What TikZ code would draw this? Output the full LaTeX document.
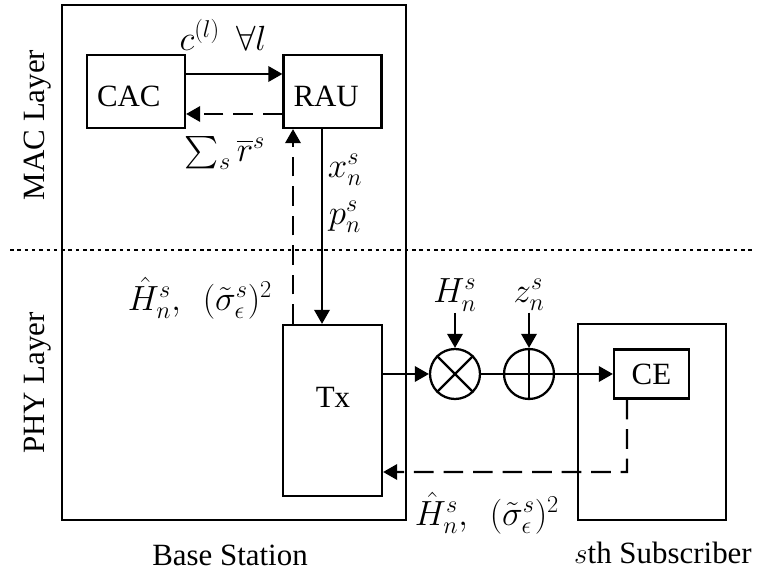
\documentclass[tikz,border=0pt]{standalone}
\usepackage[no-math]{fontspec}
\setmainfont{Liberation Serif}
\usepackage{amsmath,amssymb}
\usetikzlibrary{positioning,arrows.meta,calc}
\tikzset{
  blk/.style={draw, line width=1.6pt, inner sep=0pt},
  unit/.style={blk, minimum width=2.45cm, minimum height=1.825cm,
    text width=1.95cm, align=left, text height=0.75cm, text depth=0pt},
  op/.style={draw, circle, line width=1.6pt, minimum size=1.25cm, inner sep=0pt},
  arr/.style={-{Triangle[length=10pt,width=11pt]}, line width=1.5pt},
  darr/.style={arr, dash pattern=on 14pt off 7pt},
  lab/.style={inner sep=1pt, font=\fontsize{23pt}{27pt}\selectfont},
}

\begin{document}
\begin{tikzpicture}[x=1cm, y=-1cm, font=\fontsize{22pt}{26pt}\selectfont]
    \useasboundingbox (0,0) rectangle (18.95,14.35);
    % base station and subscriber
    \node[blk, minimum width=8.6cm, minimum height=12.875cm] (bs) at (5.85,6.5625) {};
    \node[blk, minimum width=3.7cm, minimum height=4.9cm] (sub) at (16.3,10.55) {};
    \node[unit] (cac) at (3.4,2.2875) {CAC};
    \node[unit] (rau) at (8.3125,2.2875) {RAU};
    \node[blk, minimum width=2.475cm, minimum height=4.275cm] (tx) at (8.3125,10.2625) {};
    \node (txt) at (8.325,9.925) {Tx};
    \node[op] (mul) at (11.375,9.35) {};
    \node[op] (add) at (13.225,9.35) {};
    \node[blk, minimum width=1.875cm, minimum height=1.225cm] (ce) at (16.2875,9.35) {CE};
    \draw[line width=1.6pt] (mul.north west) -- (mul.south east) (mul.north east) -- (mul.south west);
    \draw[line width=1.6pt] (add.north) -- (add.south) (add.west) -- (add.east);
    % layer split
    \coordinate (dl) at (0.25,6.25);
    \coordinate (dr) at (18.8,6.25);
    \draw[line width=1.5pt, dash pattern=on 2.5pt off 2.7pt] (dl) -- (dr);
    % MAC links
    \draw[arr] ([yshift=0.4375cm]cac.east) -- ([yshift=0.4375cm]rau.west);
    \draw[darr] ([yshift=-0.5625cm]rau.west) -- ([yshift=-0.5625cm]cac.east);
    \draw[arr] ([xshift=-0.2625cm]rau.south) -- ([xshift=-0.2625cm]tx.north);
    \draw[darr] ([xshift=-0.9875cm]tx.north) -- ([xshift=-0.9875cm]rau.south);
    % channel
    \node[lab] (hch) at (11.375,7.375) {$H_n^s$};
    \node[lab] (zn) at (13.225,7.375) {$z_n^s$};
    \draw[arr] (hch.south) -- (mul.north);
    \draw[arr] (zn.south) -- (add.north);
    \draw[arr] (tx.east |- mul) -- (mul.west);
    \draw[line width=1.5pt] (mul.east) -- (add.west);
    \draw[arr] (add.east) -- (ce.west);
    \coordinate (fb) at (15.675,11.8);
    \draw[darr] ([xshift=-0.6125cm]ce.south) -- (fb) -- (tx.east |- fb);
    % labels
    \node[lab] (cl) at (5.575,0.875) {$c^{(l)}\ \ \forall l$};
    \node[lab] (rs) at (5.625,3.825) {$\sum_s \overline{r}^s$};
    \node[lab] (xn) at (8.625,4.25) {$x_n^s$};
    \node[lab] (pn) at (8.625,5.425) {$p_n^s$};
    \node[lab] (hup) at (5.0,7.45) {$\hat{H}_n^s,\ \ (\tilde{\sigma}_\epsilon^s)^2$};
    \node[lab] (hdn) at (12.175,12.825) {$\hat{H}_n^s,\ \ (\tilde{\sigma}_\epsilon^s)^2$};
    \node[rotate=90] (mac) at (0.95,3.125) {MAC Layer};
    \node[rotate=90] (phy) at (0.95,9.575) {PHY Layer};
    \node (bsl) at (5.75,13.875) {Base Station};
    \node (subl) at (16.575,13.825) {$s$th Subscriber};
\end{tikzpicture}
\end{document}
